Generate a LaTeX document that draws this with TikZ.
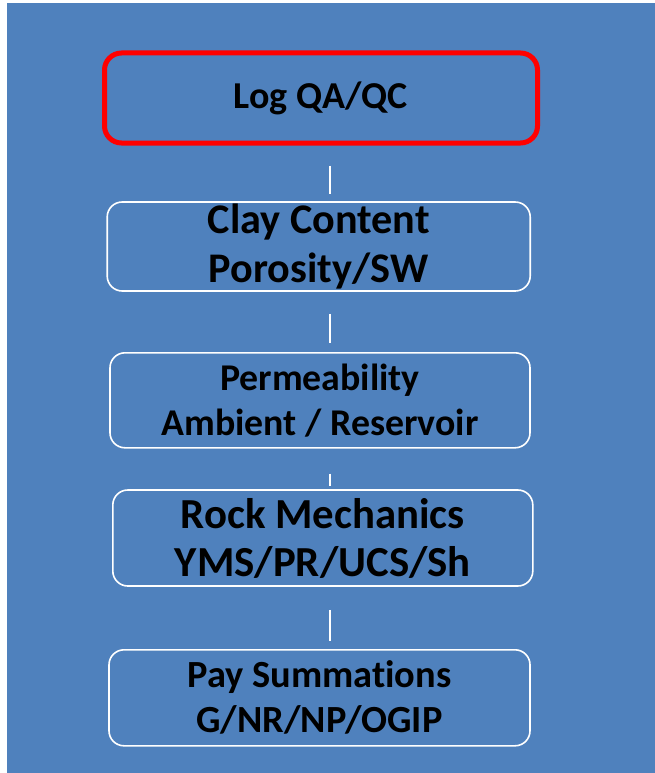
\documentclass[tikz,border=0pt]{standalone}
\usepackage{fontspec}
\setmainfont{Carlito}[Ligatures=NoCommon]
\definecolor{panelblue}{HTML}{4F81BD}
\definecolor{alertred}{HTML}{FF0000}
\tikzset{
  stepbox/.style={draw=white, line width=1.6pt, rounded corners=15pt,
    inner sep=0pt, align=center, text=black, font=\bfseries},
  firstbox/.style={stepbox, draw=alertred, line width=5pt, rounded corners=17pt},
  conn/.style={draw=white, line width=1.4pt}
}
\begin{document}
\begin{tikzpicture}[x=1pt, y=-1pt]
  \useasboundingbox (0,0) rectangle (655,773);
  % blue panel
  \fill[panelblue] (7,3) rectangle (655,773);

  % workflow steps
  \node[firstbox, minimum width=433pt, minimum height=90pt,
        font=\bfseries\fontsize{38}{44}\selectfont] (qc) at (321,98) {Log QA/QC};
  \node[stepbox, minimum width=423pt, minimum height=89pt,
        font=\bfseries\fontsize{42.2}{49}\selectfont] (clay) at (318.7,246.5)
        {Clay Content\\Porosity/SW};
  \node[stepbox, minimum width=420pt, minimum height=95pt,
        font=\bfseries\fontsize{37.8}{45}\selectfont] (perm) at (320,400.3)
        {Permeability\\Ambient / Reservoir};
  \node[stepbox, minimum width=420pt, minimum height=96pt,
        font=\bfseries\fontsize{42.8}{48}\selectfont] (rock) at (322.8,538)
        {Rock Mechanics\\YMS/PR/UCS/Sh};
  \node[stepbox, minimum width=421pt, minimum height=96pt,
        font=\bfseries\fontsize{38.4}{45}\selectfont] (pay) at (319.5,697.8)
        {Pay Summations\\G/NR/NP/OGIP};

  % short white links between the steps
  \coordinate (axis) at (330,0);
  \draw[conn, shorten <=20pt, shorten >=7pt] (qc.south -| axis) -- (clay.north -| axis);
  \draw[conn, shorten <=22pt, shorten >=9pt] (clay.south -| axis) -- (perm.north -| axis);
  \draw[conn, shorten <=25pt, shorten >=3pt] (perm.south -| axis) -- (rock.north -| axis);
  \draw[conn, shorten <=23pt, shorten >=8pt] (rock.south -| axis) -- (pay.north -| axis);
\end{tikzpicture}
\end{document}
